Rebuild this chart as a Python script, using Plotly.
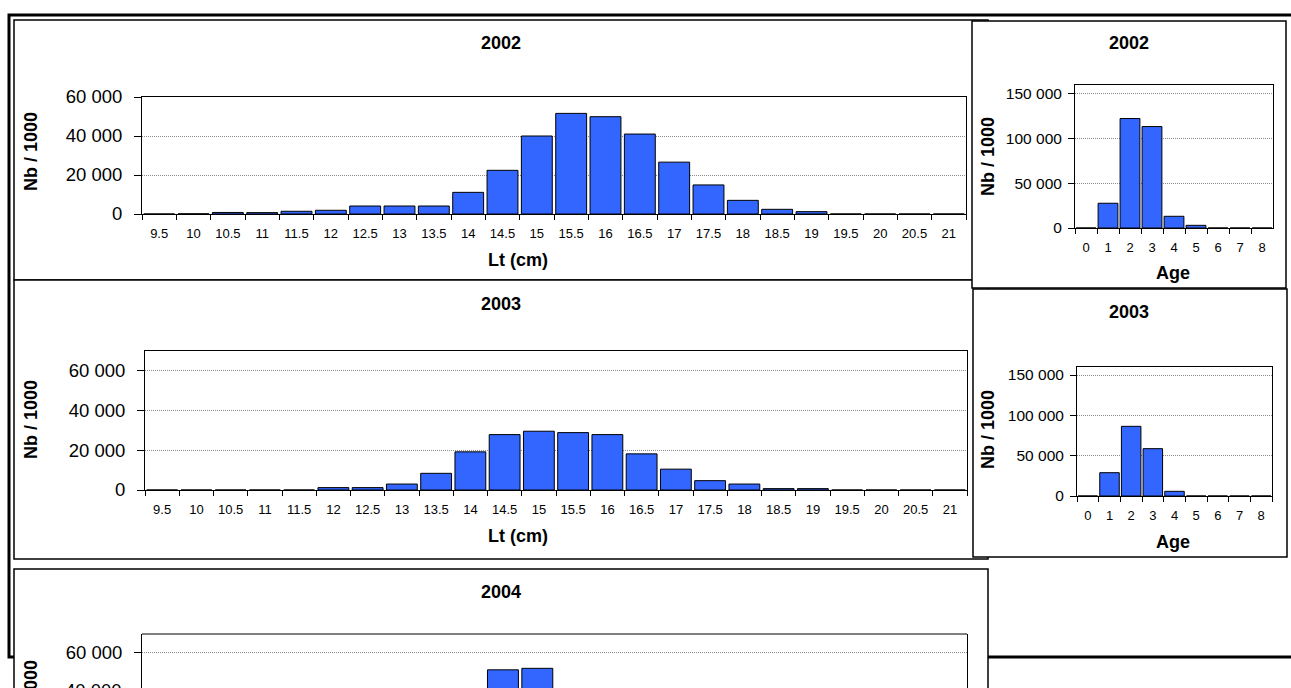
import plotly.graph_objects as go

W, H = 1291, 688

# ---------------- data ----------------
length_classes = ["9.5", "10", "10.5", "11", "11.5", "12", "12.5", "13", "13.5", "14",
                  "14.5", "15", "15.5", "16", "16.5", "17", "17.5", "18", "18.5", "19",
                  "19.5", "20", "20.5", "21"]
ages = ["0", "1", "2", "3", "4", "5", "6", "7", "8"]

len_2002 = [0, 100, 800, 700, 1400, 1900, 4100, 4100, 4100, 11100,
            22400, 40000, 51600, 49900, 41000, 26600, 14900, 7000, 2400, 1200,
            0, 0, 0, 0]
len_2003 = [0, 0, 0, 0, 0, 1200, 1200, 3000, 8400, 19200,
            27900, 29600, 28900, 27900, 18200, 10500, 4700, 3000, 700, 700,
            0, 0, 0, 0]
# 2004: only the 14.5 and 15 bars rise into the visible part of the page
len_2004 = [0, 0, 0, 0, 0, 200, 600, 1500, 5000, 20000,
            51000, 51800, 36000, 24000, 13000, 6000, 2500, 1000, 300, 100,
            0, 0, 0, 0]
age_2002 = [0, 27700, 122500, 113500, 13100, 3000, 0, 0, 0]
age_2003 = [0, 28900, 86400, 58700, 5800, 0, 0, 0, 0]

year_titles = ["2002", "2003", "2004"]

# ---------------- helpers ----------------
FONT = "Liberation Sans, Arial, sans-serif"
BAR_COLOR = "#3366FF"


def px(x):
    return x / W


def py(y):
    return 1 - y / H


fig = go.Figure()

# subplot boxes in pixels: (x0, x1, ytop, ybottom)
subplots = [
    dict(name="L2002", box=(142, 966, 97, 214), cats=length_classes, vals=len_2002, yr=[0, 60000], dtick=20000),
    dict(name="L2003", box=(145, 967, 351, 490), cats=length_classes, vals=len_2003, yr=[0, 70000], dtick=20000),
    dict(name="L2004", box=(142, 967, 634, 688), cats=length_classes, vals=len_2004, yr=[41364, 70000], dtick=20000),
    dict(name="A2002", box=(1075, 1273, 85, 228), cats=ages, vals=age_2002, yr=[0, 160000], dtick=50000),
    dict(name="A2003", box=(1077, 1272, 367, 496), cats=ages, vals=age_2003, yr=[0, 160000], dtick=50000),
]

layout_axes = {}
for i, sp in enumerate(subplots, start=1):
    xname = "x" if i == 1 else f"x{i}"
    yname = "y" if i == 1 else f"y{i}"
    x0, x1, yt, yb = sp["box"]
    fig.add_trace(go.Bar(
        x=sp["cats"], y=sp["vals"], xaxis=xname, yaxis=yname,
        marker=dict(color=BAR_COLOR, line=dict(color="black", width=1)),
        showlegend=False, hoverinfo="x+y",
    ))
    is_age = sp["name"].startswith("A")
    clipped = sp["name"] == "L2004"
    xa = dict(
        domain=[px(x0), px(x1)], anchor=yname, type="category",
        categoryorder="array", categoryarray=sp["cats"],
        showline=not clipped, linecolor="black", linewidth=1, mirror=True,
        ticks="" if clipped else "outside", tickson="boundaries", ticklen=5,
        tickcolor="black", tickwidth=1, tickangle=0,
        showticklabels=not clipped,
        tickfont=dict(family=FONT, size=13, color="black"),
        ticklabelstandoff=7,
        showgrid=False, zeroline=False, fixedrange=True, automargin=False,
    )
    ya = dict(
        domain=[py(yb), py(yt)], anchor=xname, range=sp["yr"],
        tick0=0, dtick=sp["dtick"], tickformat=",d",
        showline=True, linecolor="black", linewidth=1, mirror=True,
        ticks="outside", ticklen=6 if is_age else 7, tickcolor="black", tickwidth=1,
        tickfont=dict(family=FONT, size=15.5 if is_age else 18.5, color="black"),
        ticklabelstandoff=3 if is_age else 8,
        showgrid=True, gridcolor="#8c8c8c", griddash="1px,1px", gridwidth=1,
        zeroline=False, fixedrange=True, automargin=False,
    )
    layout_axes["xaxis" if i == 1 else f"xaxis{i}"] = xa
    layout_axes["yaxis" if i == 1 else f"yaxis{i}"] = ya

# ---------------- panel frames (drawn beneath the plots) ----------------
shapes = []


def rect(x0, y0, x1, y1, width=1.5, color="black", fill="white"):
    shapes.append(dict(type="rect", xref="paper", yref="paper",
                       x0=px(x0), x1=px(x1), y0=py(y1), y1=py(y0),
                       line=dict(color=color, width=width), fillcolor=fill,
                       layer="below"))


# thick outer frame
rect(9, 15, 1300, 657, width=3, fill="white")
# length panels
rect(14, 20, 988, 280)
rect(14, 280, 988, 559)
rect(14, 569, 988, 760)
# age panels
rect(972, 21, 1286, 288)
rect(973, 289, 1287, 557)
# top border of clipped 2004 plot area
shapes.append(dict(type="line", xref="paper", yref="paper",
                   x0=px(142), x1=px(967), y0=py(634), y1=py(634),
                   line=dict(color="black", width=1), layer="above"))

# ---------------- texts ----------------
ann = []


def text(x, y, s, size, angle=0):
    ann.append(dict(xref="paper", yref="paper", x=px(x), y=py(y), text=s,
                    showarrow=False, xanchor="center", yanchor="middle",
                    textangle=angle, font=dict(family=FONT, size=size, color="black")))


TS = 18
# titles
text(501, 43, "<b>" + year_titles[0] + "</b>", TS)
text(501, 304, "<b>" + year_titles[1] + "</b>", TS)
text(501, 592, "<b>" + year_titles[2] + "</b>", TS)
text(1129, 43, "<b>" + year_titles[0] + "</b>", TS)
text(1129, 312, "<b>" + year_titles[1] + "</b>", TS)
# x axis titles
text(518, 260, "<b>Lt (cm)</b>", TS)
text(518, 536, "<b>Lt (cm)</b>", TS)
text(1173, 273, "<b>Age</b>", TS)
text(1173, 542, "<b>Age</b>", TS)
# y axis titles
text(31, 152, "<b>Nb / 1000</b>", TS, -90)
text(31, 420, "<b>Nb / 1000</b>", TS, -90)
text(31, 700, "<b>Nb / 1000</b>", TS, -90)
text(988, 157, "<b>Nb / 1000</b>", TS, -90)
text(988, 430, "<b>Nb / 1000</b>", TS, -90)
# 40 000 tick label of the 2004 axis, cut by the page edge
ann.append(dict(xref="paper", yref="paper", x=px(124), y=py(691), text="40 000",
                showarrow=False, xanchor="right", yanchor="middle",
                font=dict(family=FONT, size=18.5, color="black")))

fig.update_layout(
    template="none",
    width=W, height=H, autosize=False,
    margin=dict(l=0, r=0, t=0, b=0, pad=0),
    paper_bgcolor="white", plot_bgcolor="rgba(0,0,0,0)",
    separators=", ",
    bargap=0.1,
    shapes=shapes, annotations=ann,
    font=dict(family=FONT, color="black"),
    **layout_axes,
)

fig.write_html(
    "out.html",
    config={"displayModeBar": False},
    post_script="document.body.style.margin='0';document.body.style.overflow='hidden';",
)
